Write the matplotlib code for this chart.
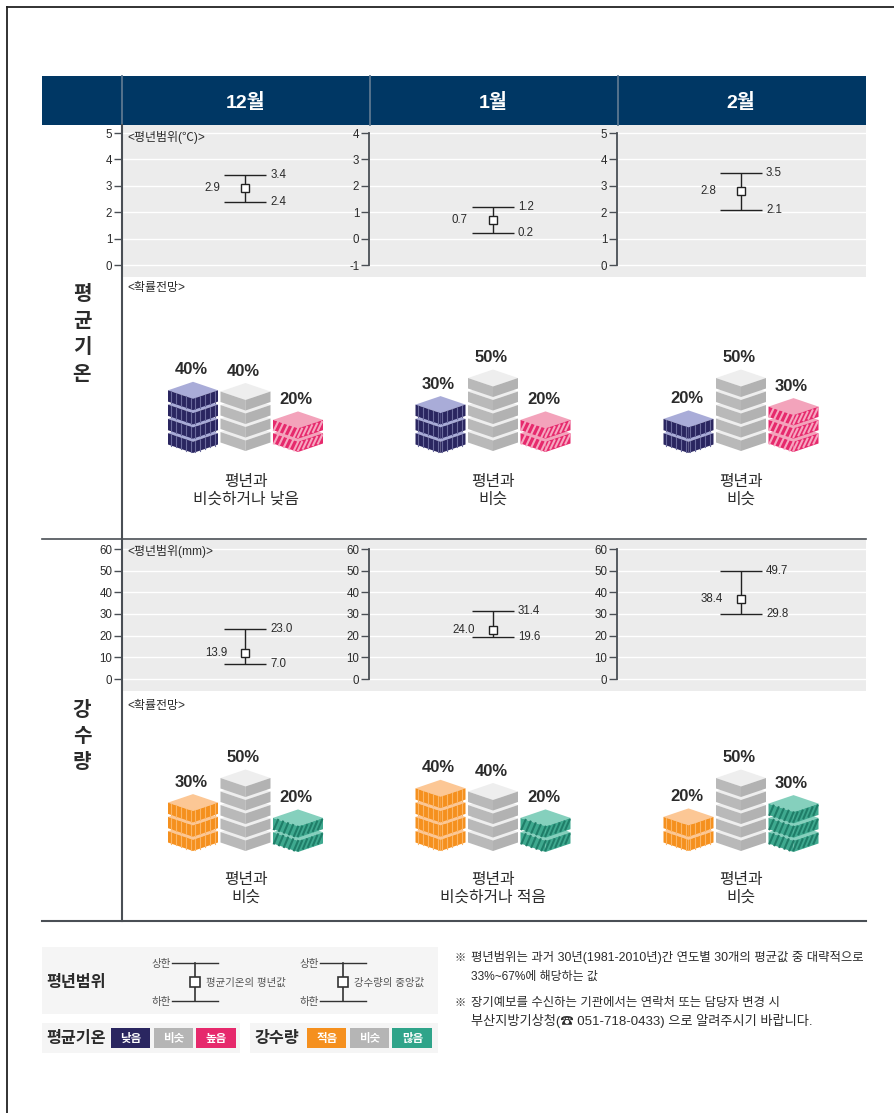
from matplotlib import pyplot as plt
from matplotlib.patches import Polygon, Rectangle

plt.rcParams['font.family'] = ['Liberation Sans', 'Noto Sans CJK KR', 'DejaVu Sans']
plt.rcParams['axes.unicode_minus'] = False

W, H = 895, 1113

months = ["12월", "1월", "2월"]

# temperature normal range per month
temp_ticks = [[0, 1, 2, 3, 4, 5], [-1, 0, 1, 2, 3, 4], [0, 1, 2, 3, 4, 5]]
temp_mean = [2.9, 0.7, 2.8]
temp_upper = [3.4, 1.2, 3.5]
temp_lower = [2.4, 0.2, 2.1]

# rainfall normal range per month
rain_ticks = [0, 10, 20, 30, 40, 50, 60]
rain_median = [13.9, 24.0, 38.4]
rain_marker = [12.1, 22.6, 37.0]  # the box sits a little below the printed value
rain_upper = [23.0, 31.4, 49.7]
rain_lower = [7.0, 19.6, 29.8]

# probability outlook, low / similar / high
temp_prob = [[40, 40, 20], [30, 50, 20], [20, 50, 30]]
rain_prob = [[30, 50, 20], [40, 40, 20], [20, 50, 30]]

temp_caption = ["평년과\n비슷하거나 낮음", "평년과\n비슷", "평년과\n비슷"]
rain_caption = ["평년과\n비슷", "평년과\n비슷하거나 적음", "평년과\n비슷"]

notes = [
    ("※", "평년범위는 과거 30년(1981-2010년)간 연도별 30개의 평균값 중 대략적으로", 958, 8.9),
    ("", "33%~67%에 해당하는 값", 977, 8.6),
    ("※", "장기예보를 수신하는 기관에서는 연락처 또는 담당자 변경 시", 1003, 8.9),
    ("", "부산지방기상청(☎ 051-718-0433) 으로 알려주시기 바랍니다.", 1020.5, 9.5),
]

NAVY = "#003764"
PANEL = "#ececec"
TEXT = "#2b2b2b"
LINE = "#4a4f55"

# (side face, top face, stripe colour, stripe kind, layer pitch)
DARK_BLUE = ("#2a2660", "#a9acd8", "#6a6a9c", "vertical", 14.3)
GREY = ("#b9b9b9", "#eeeeee", None, None, 13.5)
PINK = ("#e6296c", "#f3a3bb", "#f6a6c0", "diagonal", 13.3)
ORANGE = ("#f5901e", "#fcc795", "#fbb566", "vertical", 14.3)
TEAL = ("#3fa98f", "#85d0bd", "#1f7d68", "diagonal", 14.3)

fig = plt.figure(figsize=(W / 100, H / 100), dpi=100)
page = fig.add_axes([0, 0, 1, 1])
page.set_xlim(0, W)
page.set_ylim(H, 0)
page.axis("off")
page.set_zorder(5)


def panel_axes(x0, x1, y0, y1):
    """Axes placed with pixel coordinates of the page"""
    return fig.add_axes([x0 / W, 1 - y1 / H, (x1 - x0) / W, (y1 - y0) / H])


def range_panel(x0, x1, y0, y1, ticks, y_hi, y_lo, marker, upper, lower, label, center, gap):
    ax = panel_axes(x0, x1, y0, y1)
    scale = (y_lo - y_hi) / (ticks[-1] - ticks[0])
    ax.set_ylim(ticks[0] - (y1 - y_lo) / scale, ticks[-1] + (y_hi - y0) / scale)
    ax.set_xlim(x0, x1)
    ax.set_facecolor(PANEL)
    for spine in ["top", "right", "bottom"]:
        ax.spines[spine].set_visible(False)
    ax.spines["left"].set_color(LINE)
    ax.spines["left"].set_linewidth(1.3)
    ax.spines["left"].set_bounds(ticks[0], ticks[-1])
    ax.set_xticks([])
    ax.set_yticks(ticks)
    ax.tick_params(axis="y", length=5.5, width=1, color=LINE, labelcolor=TEXT, labelsize=8.3, pad=1.5)
    ax.set_axisbelow(True)
    ax.grid(True, axis="y", color="white", linewidth=1)
    ax.errorbar([center], [marker], yerr=[[marker - lower], [upper - marker]], color="#222222",
                linewidth=1, capsize=15, capthick=1, marker="s", markersize=5.5,
                markerfacecolor="white", markeredgecolor="#222222", markeredgewidth=1)
    ax.text(center + 25, upper, f"{upper:.1f}", va="center", fontsize=8.3, color=TEXT)
    ax.text(center + 25, lower, f"{lower:.1f}", va="center", fontsize=8.3, color=TEXT)
    ax.text(center - gap, marker, f"{label:.1f}", ha="right", va="center", fontsize=8.3, color=TEXT)
    return ax


def draw_block(cx, base, layers, style):
    """Stack of isometric layers, base is the lowest front corner. Returns top y"""
    side, top, stripe, kind, pitch = style
    w, d = 25, 8.5
    h = pitch - 3
    for n in range(layers):
        yc = base - d - h - n * pitch  # y of left and right corners, top of the layer
        page.add_patch(Polygon([(cx - w, yc), (cx, yc - d), (cx + w, yc), (cx, yc + d)],
                               fc=top, ec="none", zorder=3))
        page.add_patch(Polygon([(cx - w, yc), (cx, yc + d), (cx, yc + d + h), (cx - w, yc + h)],
                               fc=side, ec="none", zorder=3))
        shade = "#b2b2b2" if style is GREY else side
        page.add_patch(Polygon([(cx + w, yc), (cx, yc + d), (cx, yc + d + h), (cx + w, yc + h)],
                               fc=shade, ec="none", zorder=3))
        if stripe is None:
            continue
        for t in [0.12, 0.32, 0.52, 0.72, 0.92]:
            for sign in [-1, 1]:
                x = cx + sign * w * (1 - t)
                y = yc + d * t
                if kind == "vertical":
                    page.plot([x, x], [y, y + h], color=stripe, lw=0.8, zorder=4)
                else:
                    page.plot([x - 2, x + 2], [y + h - 1, y + 1], color=stripe, lw=1.5, zorder=4)
    return base - 2 * d - h - (layers - 1) * pitch


def draw_outlook(cols, probs, captions, bases, styles, caption_y):
    for col, prob, caption in zip(cols, probs, captions):
        for k, pct in enumerate(prob):
            cx = col + (k - 1) * 52.5
            top = draw_block(cx, bases[k], pct // 10, styles[k])
            page.text(cx - 2, top - 12, f"{pct}%", ha="center", va="center", fontsize=12,
                      fontweight="bold", color=TEXT)
        page.text(col, caption_y, caption, ha="center", va="center", fontsize=11.4, color=TEXT,
                  linespacing=1.2)


def range_glyph(x_center, y_top, y_bot, left_x, label, label_x):
    page.plot([x_center - 23, x_center + 23], [y_top, y_top], color="#333333", lw=1, zorder=3)
    page.plot([x_center - 23, x_center + 23], [y_bot, y_bot], color="#333333", lw=1, zorder=3)
    page.plot([x_center, x_center], [y_top, y_bot], color="#333333", lw=1.2, zorder=3)
    page.add_patch(Rectangle((x_center - 5, (y_top + y_bot) / 2 - 5), 10, 10, fc="white",
                             ec="#333333", lw=1.2, zorder=4))
    page.text(left_x, y_top + 1, "상한", ha="center", va="center", fontsize=7.6, color="#555555")
    page.text(left_x, y_bot + 1, "하한", ha="center", va="center", fontsize=7.6, color="#555555")
    page.text(label_x, (y_top + y_bot) / 2 + 1, label, va="center", fontsize=7.5, color="#555555")


def swatches(x_list, labels, colors):
    for x, text, color in zip(x_list, labels, colors):
        page.add_patch(Rectangle((x, 1028), 39.5, 20, fc=color, ec="none", zorder=3))
        page.text(x + 20, 1039, text, ha="center", va="center", fontsize=8.3, color="white",
                  fontweight="bold", zorder=4)


# page frame, only left and top edges are inside the scan
page.plot([7, 7], [6.5, H], color="#222222", lw=1.3)
page.plot([7, W], [6.5, 6.5], color="#222222", lw=1.3)

# header
page.add_patch(Rectangle((42, 76), 824, 49, fc=NAVY, ec="none"))
centers = [245.5, 493, 741]
for sep in [122, 370, 618]:
    page.plot([sep, sep], [76, 125], color="#5b7790", lw=1.3)
for cx, month in zip(centers, months):
    page.text(cx, 102.5, month, ha="center", va="center", fontsize=14, fontweight="bold", color="white")

# frame lines of the table
page.plot([122, 122], [125, 921], color=LINE, lw=1.5, zorder=6)
page.plot([42, 866], [539, 539], color=LINE, lw=1.2, zorder=6)
page.plot([42, 866], [921, 921], color=LINE, lw=1.5, zorder=6)

for y, ch in zip([294.5, 321.5, 347.5, 374.5], "평균기온"):
    page.text(82, y, ch, ha="center", va="center", fontsize=14.5, fontweight="bold", color=TEXT)
for y, ch in zip([710.5, 736, 762.5], "강수량"):
    page.text(82, y, ch, ha="center", va="center", fontsize=14.5, fontweight="bold", color=TEXT)

# normal range panels
edges = [122, 369, 617, 866]
for i in range(3):
    range_panel(edges[i], edges[i + 1], 125, 277, temp_ticks[i], 133, 265, temp_mean[i],
                temp_upper[i], temp_lower[i], temp_mean[i], centers[i], 25)
    range_panel(edges[i], edges[i + 1], 540, 691, rain_ticks, 549, 679, rain_marker[i],
                rain_upper[i], rain_lower[i], rain_median[i], centers[i], 18.5)

page.text(127, 137.5, "<평년범위(℃)>", va="center", fontsize=8.6, color=TEXT)
page.text(127, 288.5, "<확률전망>", va="center", fontsize=8.6, color=TEXT)
page.text(127, 551.5, "<평년범위(mm)>", va="center", fontsize=8.6, color=TEXT)
page.text(127, 705.5, "<확률전망>", va="center", fontsize=8.6, color=TEXT)

# probability blocks
draw_outlook(centers, temp_prob, temp_caption, [453, 451, 452], [DARK_BLUE, GREY, PINK], 490.5)
draw_outlook(centers, rain_prob, rain_caption, [851, 851, 852], [ORANGE, GREY, TEAL], 888.5)

# legend
page.add_patch(Rectangle((42, 947), 396, 67, fc="#f5f5f5", ec="none"))
page.add_patch(Rectangle((42, 1023), 198, 30, fc="#f5f5f5", ec="none"))
page.add_patch(Rectangle((250, 1023), 188, 30, fc="#f5f5f5", ec="none"))
page.text(76, 983, "평년범위", ha="center", va="center", fontsize=11.7, fontweight="bold", color=TEXT)
range_glyph(195, 963, 1001, 161, "평균기온의 평년값", 206)
range_glyph(343.5, 963, 1001, 309, "강수량의 중앙값", 354)
page.text(76, 1039, "평균기온", ha="center", va="center", fontsize=11.7, fontweight="bold", color=TEXT)
page.text(277, 1039, "강수량", ha="center", va="center", fontsize=11.7, fontweight="bold", color=TEXT)
swatches([111, 154, 196.5], ["낮음", "비슷", "높음"], ["#2a2660", "#b5b5b5", "#e6296c"])
swatches([307, 350, 392.5], ["적음", "비슷", "많음"], ["#f5901e", "#b5b5b5", "#2fa48a"])

# notes
for mark, line, y, size in notes:
    if mark:
        page.text(455, y, mark, va="center", fontsize=8, color=TEXT)
    page.text(471, y, line, va="center", fontsize=size, color=TEXT)

fig.savefig("out.png", dpi=100)
